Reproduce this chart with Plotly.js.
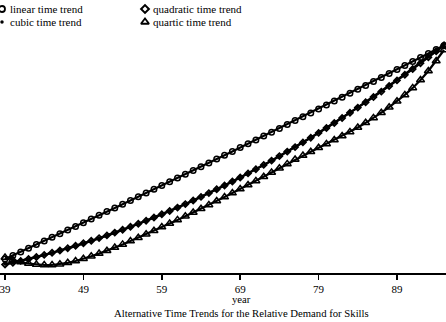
<!DOCTYPE html>
<html>
<head>
<meta charset="utf-8">
<script src="https://cdn.plot.ly/plotly-3.0.1.min.js"></script>
<style>html,body{margin:0;padding:0;background:#fff;}#chart{width:446px;height:322px;}</style>
</head>
<body>
<div id="chart"></div>
<script>
const years = [39,40,41,42,43,44,45,46,47,48,49,50,51,52,53,54,55,56,57,58,59,60,61,62,63,64,65,66,67,68,69,70,71,72,73,74,75,76,77,78,79,80,81,82,83,84,85,86,87,88,89,90,91,92,93,94,95];
const linearTrend = [0.059,0.095,0.131,0.168,0.204,0.240,0.277,0.313,0.350,0.386,0.423,0.460,0.497,0.534,0.571,0.608,0.645,0.682,0.720,0.757,0.795,0.832,0.870,0.908,0.945,0.983,1.021,1.059,1.097,1.135,1.174,1.212,1.250,1.289,1.327,1.366,1.405,1.444,1.482,1.521,1.560,1.599,1.639,1.678,1.717,1.757,1.796,1.836,1.875,1.915,1.955,1.995,2.034,2.074,2.115,2.155,2.195];
const quadraticTrend = [0.004,0.022,0.041,0.060,0.080,0.101,0.122,0.145,0.168,0.192,0.217,0.242,0.269,0.296,0.324,0.352,0.382,0.412,0.443,0.475,0.507,0.540,0.574,0.609,0.645,0.681,0.719,0.757,0.795,0.835,0.875,0.916,0.958,1.001,1.044,1.089,1.134,1.179,1.226,1.273,1.321,1.370,1.420,1.470,1.522,1.574,1.627,1.680,1.734,1.790,1.846,1.902,1.960,2.018,2.077,2.137,2.197];
const cubicTrend = [0.010,0.025,0.042,0.060,0.079,0.099,0.120,0.142,0.165,0.189,0.213,0.239,0.265,0.292,0.320,0.349,0.379,0.409,0.440,0.472,0.505,0.538,0.572,0.607,0.643,0.680,0.717,0.755,0.794,0.834,0.874,0.915,0.957,1.000,1.043,1.088,1.133,1.179,1.226,1.273,1.322,1.371,1.421,1.472,1.524,1.577,1.630,1.684,1.739,1.795,1.851,1.908,1.966,2.024,2.083,2.142,2.200];
const quarticTrend = [0.075,0.050,0.030,0.015,0.005,0.000,0.000,0.008,0.022,0.040,0.062,0.087,0.114,0.143,0.174,0.206,0.239,0.273,0.308,0.343,0.379,0.415,0.451,0.488,0.525,0.563,0.601,0.640,0.679,0.719,0.759,0.800,0.841,0.883,0.925,0.968,1.011,1.055,1.094,1.133,1.172,1.211,1.250,1.290,1.331,1.375,1.422,1.471,1.523,1.578,1.637,1.701,1.771,1.850,1.940,2.040,2.150];
const tickYears = [39,49,59,69,79,89];
const seriesNames = ['linear time trend','quadratic time trend','cubic time trend','quartic time trend'];

const FONT = 'Liberation Serif';
const styles = [
  {symbol:'circle-open', size:5.5, line:{width:1.5,color:'#000'}, color:'#000'},
  {symbol:'diamond-open', size:4.5, line:{width:1.8,color:'#000'}, color:'#000'},
  {symbol:'circle', size:3.5, line:{width:0}, color:'#000'},
  {symbol:'triangle-up-open', size:7, line:{width:1.5,color:'#000'}, color:'#000'}
];
const values = [linearTrend, quadraticTrend, cubicTrend, quarticTrend];

const traces = values.map((v,i)=>({
  x: years, y: v, type:'scatter', mode:'lines+markers', name: seriesNames[i],
  line:{color:'#000', width:2.2}, marker: styles[i], cliponaxis:false, showlegend:false
}));

// legend keys on a pixel-like overlay axis (x: px from left, y: px above the x axis line)
const legX = [2,145,2,145];
const legY = [264,264,251,251];
const legStyles = [
  {symbol:'circle-open', size:6, line:{width:1.8,color:'#000'}, color:'#000'},
  {symbol:'diamond-open', size:6, line:{width:2,color:'#000'}, color:'#000'},
  {symbol:'circle', size:3.5, line:{width:0}, color:'#000'},
  {symbol:'triangle-up-open', size:7, line:{width:1.8,color:'#000'}, color:'#000'}
];
[0,1,2,3].forEach(i=>{
  traces.push({x:[legX[i]], y:[legY[i]], xaxis:'x2', yaxis:'y2', type:'scatter', mode:'markers',
    marker: legStyles[i], cliponaxis:false, showlegend:false, hoverinfo:'skip'});
});

const annotations = [0,1,2,3].map(i=>({
  x: legX[i]+6, y: legY[i], xref:'x2', yref:'y2', text: seriesNames[i], showarrow:false,
  xanchor:'left', yanchor:'middle', font:{family:FONT, size:11, color:'#000'}
}));
annotations.push({x:241/446, y:-26/273, xref:'paper', yref:'paper', text:'year', showarrow:false,
  xanchor:'center', yanchor:'middle', font:{family:FONT, size:10.7, color:'#000'}});
annotations.push({x:241/446, y:-40/273, xref:'paper', yref:'paper', text:'Alternative Time Trends for the Relative Demand for Skills', showarrow:false,
  xanchor:'center', yanchor:'middle', font:{family:FONT, size:10.7, color:'#000'}});

const layout = {
  width:446, height:322,
  margin:{l:0, r:0, t:0, b:49},
  paper_bgcolor:'#fff', plot_bgcolor:'#fff',
  showlegend:false,
  xaxis:{range:[38.36,95.25], tickvals:tickYears, ticktext:tickYears.map(String), ticks:'outside', ticklen:5, tickwidth:1.5, tickcolor:'#000',
    showline:true, linecolor:'#000', linewidth:2, showgrid:false, zeroline:false, ticklabeloverflow:'allow',
    tickfont:{family:FONT, size:11, color:'#000'}},
  yaxis:{range:[-0.08,2.65], visible:false, showgrid:false, zeroline:false},
  xaxis2:{range:[0,446], overlaying:'x', anchor:'y2', visible:false},
  yaxis2:{range:[0,273], overlaying:'y', anchor:'x2', visible:false},
  annotations: annotations
};
Plotly.newPlot('chart', traces, layout, {staticPlot:true});
</script>
</body>
</html>
